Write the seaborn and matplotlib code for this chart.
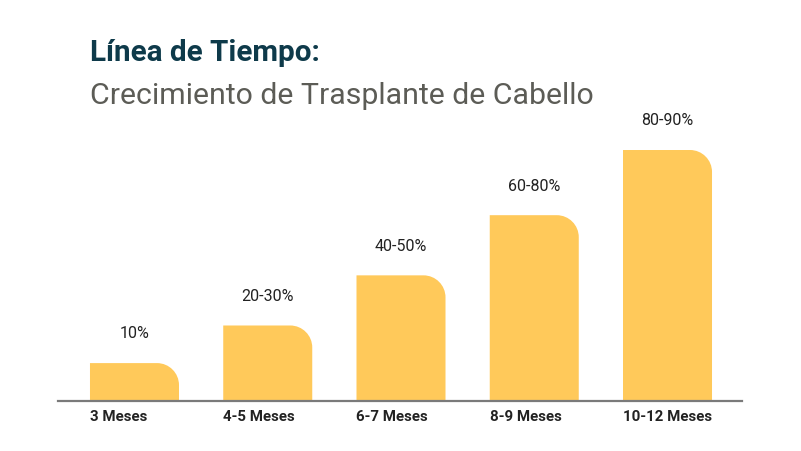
import numpy as np
import pandas as pd
import matplotlib
matplotlib.use("Agg")
import matplotlib.pyplot as plt
from matplotlib.path import Path as MPath
from matplotlib.patches import PathPatch
import seaborn as sns

# Data
meses = ["3 Meses", "4-5 Meses", "6-7 Meses", "8-9 Meses", "10-12 Meses"]
crecimiento = [15, 30, 50, 74, 100]  # bar heights, relative
etiquetas = ["10%", "20-30%", "40-50%", "60-80%", "80-90%"]

BAR_COLOR = "#FFC95A"
TITLE_COLOR = "#0E3A4A"
SUB_COLOR = "#5C5C56"
TEXT_COLOR = "#222222"
LINE_COLOR = "#7A7A7A"

sns.set_theme(style="white")
plt.rcParams['font.family'] = ['Roboto', 'DejaVu Sans']

fig = plt.figure(figsize=(8.01, 4.51), dpi=100)
ax = fig.add_axes([58 / 801, 50.3 / 451, 684 / 801, 250.7 / 451])

df = pd.DataFrame({"mes": meses, "valor": crecimiento})
sns.barplot(data=df, x="mes", y="valor", color=BAR_COLOR, width=0.668,
            saturation=1, ax=ax)

ax.set_xlim(-0.574, 4.559)
ax.set_ylim(0, 100)

# rounded top-right corner
fig.canvas.draw()
px_x = ax.transData.transform((1, 0))[0] - ax.transData.transform((0, 0))[0]
px_y = ax.transData.transform((0, 1))[1] - ax.transData.transform((0, 0))[1]
radius = 22
k = 0.5523
for bar, mes in zip(list(ax.patches), meses):
    x0 = bar.get_x()
    w = bar.get_width()
    h = bar.get_height()
    x1 = x0 + w
    r_px = min(radius, h * px_y)
    rx = r_px / px_x
    ry = r_px / px_y
    verts = [
        (x0, 0), (x0, h), (x1 - rx, h),
        (x1 - rx + k * rx, h), (x1, h - ry + k * ry), (x1, h - ry),
        (x1, 0), (x0, 0),
    ]
    codes = [MPath.MOVETO, MPath.LINETO, MPath.LINETO,
             MPath.CURVE4, MPath.CURVE4, MPath.CURVE4,
             MPath.LINETO, MPath.CLOSEPOLY]
    ax.add_patch(PathPatch(MPath(verts, codes), facecolor=BAR_COLOR,
                           edgecolor="none", zorder=2))
    bar.set_visible(False)
    # category label, left-aligned with the bar
    ax.annotate(mes, xy=(x0, 0), xytext=(0, -11.5), textcoords="offset points",
                ha="left", va="center", fontsize=10.8, fontweight="bold",
                color=TEXT_COLOR, annotation_clip=False)

for i, (v, lab) in enumerate(zip(crecimiento, etiquetas)):
    ax.annotate(lab, xy=(i, v), xytext=(0, 21), textcoords="offset points",
                ha="center", va="center", fontsize=11.5, color=TEXT_COLOR)

for s in ["top", "right", "left"]:
    ax.spines[s].set_visible(False)
ax.spines["bottom"].set_color(LINE_COLOR)
ax.spines["bottom"].set_linewidth(1.6)
ax.spines["bottom"].set_zorder(3)
ax.set_yticks([])
ax.set_xticks([])
ax.set_xlabel("")
ax.set_ylabel("")

fig.text(90 / 801, 1 - 61 / 451, "Línea de Tiempo:", fontsize=21.3,
         fontweight="bold", color=TITLE_COLOR, va="baseline", ha="left")
fig.text(90 / 801, 1 - 104 / 451, "Crecimiento de Trasplante de Cabello",
         fontsize=21.8, color=SUB_COLOR, va="baseline", ha="left")

fig.savefig("out.png", dpi=100)
